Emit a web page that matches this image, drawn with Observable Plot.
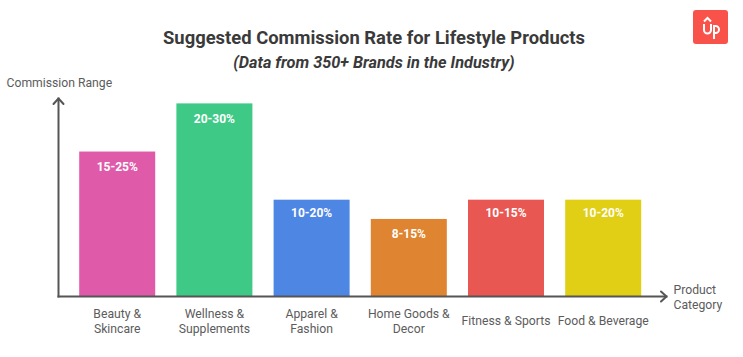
<!DOCTYPE html>
<html><head><meta charset="utf-8">
<script src="https://cdn.jsdelivr.net/npm/d3@7"></script>
<script src="https://cdn.jsdelivr.net/npm/@observablehq/plot@0.6"></script>
<style>
html,body{margin:0;padding:0;background:#fff;}
#page{position:relative;width:743px;height:357px;overflow:hidden;font-family:Roboto,sans-serif;}
#head{height:70px;text-align:center;box-sizing:border-box;padding:27px 0 0 5px;color:#3a3a3a;}
#title{font-size:18.4px;font-weight:700;line-height:21px;}
#sub{font-size:16.3px;font-weight:700;font-style:italic;line-height:20px;margin-top:5px;}
#logo{position:absolute;left:693px;top:10px;width:35px;height:34px;}
svg{display:block;}
</style></head>
<body>
<div id="page">
<div id="head"><div id="title">Suggested Commission Rate for Lifestyle Products</div><div id="sub">(Data from 350+ Brands in the Industry)</div></div>
<svg id="logo" viewBox="0 0 35 34"><rect width="35" height="34" rx="3" fill="#f9524a"/><g fill="none" stroke="#fff" stroke-width="2"><path d="M11 11.5l3.5-3.5 3.5 3.5"/><path d="M11 14v6a3.5 3.5 0 0 0 7 0v-6"/><path d="M21 29V16h1.5a3 3 0 0 1 0 7H21"/></g></svg>
<div id="chart"></div>
</div>
<script>
const categories = ["Beauty &\nSkincare","Wellness &\nSupplements","Apparel &\nFashion","Home Goods &\nDecor","Fitness & Sports","Food & Beverage"];
const lowRates = [15,20,10,8,10,10];
const rangeLabels = ["15-25%","20-30%","10-20%","8-15%","10-15%","10-20%"];
const barColors = ["#DF5AA9","#3FC986","#4E86E4","#DF8430","#E95752","#E0CF14"];
const yLabel = "Commission Range";
const xLabel = "Product\nCategory";
const rows = categories.map((c,i)=>({category:c,low:lowRates[i],range:rangeLabels[i],color:barColors[i]}));
const axisColor = "#555555", textColor = "#5c5c5c";
const chevron = {draw(c){c.moveTo(-5,5.5);c.lineTo(0,0);c.lineTo(5,5.5);}};
const labelOpts = {x:"category",y:"low",text:"range",fill:"#fff",fontWeight:700,fontSize:12,dx:-0.5};
const plot = Plot.plot({
  width:743,height:287,
  marginTop:28,marginBottom:61,marginLeft:58,marginRight:77,
  style:{fontFamily:"Roboto, sans-serif",background:"transparent"},
  x:{domain:categories,range:[58,662.4],padding:0.218,round:false,axis:null},
  y:{domain:[0,20.56],axis:null},
  color:{type:"identity"},
  marks:[
    Plot.barY(rows,{x:"category",y:"low",fill:"color"}),
    Plot.frame({anchor:"left",stroke:axisColor,strokeWidth:2}),
    Plot.frame({anchor:"bottom",stroke:axisColor,strokeWidth:2}),
    Plot.vector([yLabel],{frameAnchor:"top-left",length:1,anchor:"start",rotate:0,shape:chevron,stroke:axisColor,strokeWidth:2}),
    Plot.vector([xLabel],{frameAnchor:"bottom-right",length:1,anchor:"start",rotate:90,shape:chevron,stroke:axisColor,strokeWidth:2}),
    Plot.text(rows,{...labelOpts,filter:d=>d.low===10,dy:13}),
    Plot.text(rows,{...labelOpts,filter:d=>d.low!==10,dy:15}),
    Plot.text(rows,{x:"category",text:"category",frameAnchor:"bottom",lineAnchor:"middle",dy:24,dx:-0.5,lineHeight:1.25,fill:textColor,fontSize:12.2}),
    Plot.text([yLabel],{frameAnchor:"top-left",text:d=>d,textAnchor:"start",dx:-52,dy:-20,fill:textColor,fontSize:12.2}),
    Plot.text([xLabel],{frameAnchor:"bottom-right",text:d=>d,textAnchor:"start",lineAnchor:"middle",dx:7,lineHeight:1.25,fill:textColor,fontSize:12.2})
  ]
});
document.getElementById("chart").append(plot);
</script>
</body></html>
